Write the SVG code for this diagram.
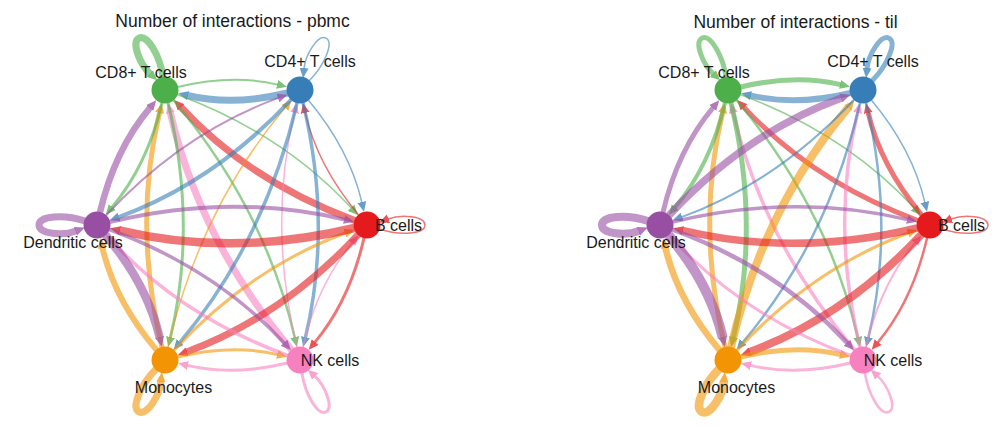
<svg xmlns="http://www.w3.org/2000/svg" xmlns:xlink="http://www.w3.org/1999/xlink" width="1000" height="427" viewBox="0 0 1000 427">
<style>
.e{fill:none;stroke-opacity:.6}
.c8{stroke:#4DAF4A;marker-end:url(#a8)}
.c4{stroke:#377EB8;marker-end:url(#a4)}
.cb{stroke:#E41A1C;marker-end:url(#ab)}
.cn{stroke:#F781BF;marker-end:url(#an)}
.cm{stroke:#F29403;marker-end:url(#am)}
.cd{stroke:#984EA3;marker-end:url(#ad)}
.lbl{font-family:"Liberation Sans",Arial,sans-serif;font-size:16px;fill:#1a1a1a;text-anchor:middle}
.ttl{font-family:"Liberation Sans",Arial,sans-serif;font-size:17.5px;fill:#1a1a1a;text-anchor:middle}
</style>
<defs>
<marker id="a8" viewBox="0 -5 10 10" refX="0.5" refY="0" markerWidth="10" markerHeight="10" markerUnits="userSpaceOnUse" orient="auto"><path d="M0,-4.5L10,0L0,4.5z" fill="#4DAF4A" fill-opacity=".75"/></marker>
<marker id="a4" viewBox="0 -5 10 10" refX="0.5" refY="0" markerWidth="10" markerHeight="10" markerUnits="userSpaceOnUse" orient="auto"><path d="M0,-4.5L10,0L0,4.5z" fill="#377EB8" fill-opacity=".75"/></marker>
<marker id="ab" viewBox="0 -5 10 10" refX="0.5" refY="0" markerWidth="10" markerHeight="10" markerUnits="userSpaceOnUse" orient="auto"><path d="M0,-4.5L10,0L0,4.5z" fill="#E41A1C" fill-opacity=".75"/></marker>
<marker id="an" viewBox="0 -5 10 10" refX="0.5" refY="0" markerWidth="10" markerHeight="10" markerUnits="userSpaceOnUse" orient="auto"><path d="M0,-4.5L10,0L0,4.5z" fill="#F781BF" fill-opacity=".75"/></marker>
<marker id="am" viewBox="0 -5 10 10" refX="0.5" refY="0" markerWidth="10" markerHeight="10" markerUnits="userSpaceOnUse" orient="auto"><path d="M0,-4.5L10,0L0,4.5z" fill="#F29403" fill-opacity=".75"/></marker>
<marker id="ad" viewBox="0 -5 10 10" refX="0.5" refY="0" markerWidth="10" markerHeight="10" markerUnits="userSpaceOnUse" orient="auto"><path d="M0,-4.5L10,0L0,4.5z" fill="#984EA3" fill-opacity=".75"/></marker>
<path id="loop" d="M12,4C34,11 58,9 58,0C58,-9 34,-11 21,-6"/>
<path id="e12" d="M177.6,87Q232.5,73.8 277.6,84.6"/>
<path id="e21" d="M287.4,93Q232.5,106.2 187.4,95.4"/>
<path id="e13" d="M177.2,94.5Q282.2,133.3 351.4,208.1"/>
<path id="e31" d="M354.8,220.5Q249.8,181.7 180.6,106.9"/>
<path id="e14" d="M173.4,100Q264.9,208.8 294.8,337.6"/>
<path id="e41" d="M291.6,350Q200.1,241.2 170.2,112.4"/>
<path id="e15" d="M168,102.6Q197.4,225 170.4,337.6"/>
<path id="e51" d="M162,347.4Q132.6,225 159.6,112.4"/>
<path id="e16" d="M162,102.7Q147.2,165.7 111.9,207.4"/>
<path id="e61" d="M100,212.3Q114.8,149.3 150.1,107.6"/>
<path id="e23" d="M308.3,100Q349.7,149.5 361.9,202.6"/>
<path id="e32" d="M358.7,215Q317.3,165.5 305.1,112.4"/>
<path id="e24" d="M303,102.6Q332.4,225 305.4,337.6"/>
<path id="e42" d="M297,347.4Q267.6,225 294.6,112.4"/>
<path id="e25" d="M297.1,102.7Q264.9,241.2 179.8,342.4"/>
<path id="e52" d="M167.9,347.3Q200.1,208.8 285.2,107.6"/>
<path id="e26" d="M291.2,99.5Q214.7,181.9 118.6,217.1"/>
<path id="e62" d="M105.9,215.5Q182.3,133.1 278.4,97.9"/>
<path id="e34" d="M364.1,237.7Q349.7,300.5 314.8,342.4"/>
<path id="e43" d="M302.9,347.3Q317.3,284.5 352.3,242.7"/>
<path id="e35" d="M358.2,234.6Q282.2,316.7 186.6,352"/>
<path id="e53" d="M173.8,350.5Q249.8,268.3 345.4,233"/>
<path id="e36" d="M354.4,228Q232,257.4 119.4,230.4"/>
<path id="e63" d="M109.6,222Q232,192.6 344.6,219.6"/>
<path id="e45" d="M287.4,363Q232.5,376.2 187.4,365.4"/>
<path id="e54" d="M177.6,357Q232.5,343.8 277.6,354.6"/>
<path id="e46" d="M287.8,355.5Q182.3,316.9 112.7,241.9"/>
<path id="e64" d="M109.2,229.5Q214.7,268.1 284.4,343.1"/>
<path id="e56" d="M156.6,350.1Q114.8,300.7 102.3,247.4"/>
<path id="e65" d="M105.4,234.9Q147.2,284.3 159.7,337.6"/>
</defs>
<rect width="1000" height="427" fill="#ffffff"/>

<g id="pbmc">
<text class="ttl" x="232.5" y="27">Number of interactions - pbmc</text>
<g id="pbmc-connectors">
<use href="#loop" class="e c8" stroke-width="7" transform="translate(165,90) rotate(-116.6)"/>
<use href="#loop" class="e c4" stroke-width="1.5" transform="translate(300,90) rotate(-63.4)"/>
<use href="#loop" class="e cb" stroke-width="1.5" transform="translate(367,225)"/>
<use href="#loop" class="e cn" stroke-width="3" transform="translate(300,360) rotate(63.4)"/>
<use href="#loop" class="e cm" stroke-width="7" transform="translate(165,360) rotate(116.6)"/>
<use href="#loop" class="e cd" stroke-width="7" transform="translate(97,225) rotate(180)"/>
<use href="#e12" class="e c8" stroke-width="2"/>
<use href="#e21" class="e c4" stroke-width="7"/>
<use href="#e13" class="e c8" stroke-width="1.5"/>
<use href="#e31" class="e cb" stroke-width="7"/>
<use href="#e14" class="e c8" stroke-width="2.5"/>
<use href="#e41" class="e cn" stroke-width="7"/>
<use href="#e15" class="e c8" stroke-width="3"/>
<use href="#e51" class="e cm" stroke-width="5"/>
<use href="#e16" class="e c8" stroke-width="3"/>
<use href="#e61" class="e cd" stroke-width="6.5"/>
<use href="#e23" class="e c4" stroke-width="1.5"/>
<use href="#e32" class="e cb" stroke-width="1.5"/>
<use href="#e24" class="e c4" stroke-width="3.5"/>
<use href="#e42" class="e cn" stroke-width="1.5"/>
<use href="#e25" class="e c4" stroke-width="3.5"/>
<use href="#e52" class="e cm" stroke-width="1.5"/>
<use href="#e26" class="e c4" stroke-width="4"/>
<use href="#e62" class="e cd" stroke-width="2"/>
<use href="#e34" class="e cb" stroke-width="3"/>
<use href="#e43" class="e cn" stroke-width="1.5"/>
<use href="#e35" class="e cb" stroke-width="7"/>
<use href="#e53" class="e cm" stroke-width="3"/>
<use href="#e36" class="e cb" stroke-width="8.5"/>
<use href="#e63" class="e cd" stroke-width="4"/>
<use href="#e45" class="e cn" stroke-width="3"/>
<use href="#e54" class="e cm" stroke-width="3"/>
<use href="#e46" class="e cn" stroke-width="3.5"/>
<use href="#e64" class="e cd" stroke-width="3.5"/>
<use href="#e56" class="e cm" stroke-width="6"/>
<use href="#e65" class="e cd" stroke-width="8.5"/>
</g>
<g id="pbmc-cd8"><circle cx="165" cy="90" r="13.5" fill="#4DAF4A"/><text class="lbl" x="141" y="78">CD8+ T cells</text></g>
<g id="pbmc-cd4"><circle cx="300" cy="90" r="13.5" fill="#377EB8"/><text class="lbl" x="310" y="67">CD4+ T cells</text></g>
<g id="pbmc-b"><circle cx="367" cy="225" r="13.5" fill="#E41A1C"/><text class="lbl" x="398.5" y="231">B cells</text></g>
<g id="pbmc-nk"><circle cx="300" cy="360" r="13.5" fill="#F781BF"/><text class="lbl" x="330" y="366">NK cells</text></g>
<g id="pbmc-mono"><circle cx="165" cy="360" r="13.5" fill="#F29403"/><text class="lbl" x="173.5" y="393">Monocytes</text></g>
<g id="pbmc-dc"><circle cx="97" cy="225" r="13.5" fill="#984EA3"/><text class="lbl" x="73" y="248">Dendritic cells</text></g>
</g>

<g id="til" transform="translate(563,0)">
<text class="ttl" x="232.5" y="28">Number of interactions - til</text>
<g id="til-connectors">
<use href="#loop" class="e c8" stroke-width="5" transform="translate(165,90) rotate(-116.6)"/>
<use href="#loop" class="e c4" stroke-width="5" transform="translate(300,90) rotate(-63.4)"/>
<use href="#loop" class="e cb" stroke-width="1.5" transform="translate(367,225)"/>
<use href="#loop" class="e cn" stroke-width="2.5" transform="translate(300,360) rotate(63.4)"/>
<use href="#loop" class="e cm" stroke-width="8.5" transform="translate(165,360) rotate(116.6)"/>
<use href="#loop" class="e cd" stroke-width="8" transform="translate(97,225) rotate(180)"/>
<use href="#e12" class="e c8" stroke-width="5"/>
<use href="#e21" class="e c4" stroke-width="6"/>
<use href="#e13" class="e c8" stroke-width="1.5"/>
<use href="#e31" class="e cb" stroke-width="5"/>
<use href="#e14" class="e c8" stroke-width="2.5"/>
<use href="#e41" class="e cn" stroke-width="3.5"/>
<use href="#e15" class="e c8" stroke-width="5"/>
<use href="#e51" class="e cm" stroke-width="5"/>
<use href="#e16" class="e c8" stroke-width="4"/>
<use href="#e61" class="e cd" stroke-width="5"/>
<use href="#e23" class="e c4" stroke-width="1.5"/>
<use href="#e32" class="e cb" stroke-width="5"/>
<use href="#e24" class="e c4" stroke-width="2.5"/>
<use href="#e42" class="e cn" stroke-width="3.5"/>
<use href="#e25" class="e c4" stroke-width="2.5"/>
<use href="#e52" class="e cm" stroke-width="8"/>
<use href="#e26" class="e c4" stroke-width="2"/>
<use href="#e62" class="e cd" stroke-width="7.5"/>
<use href="#e34" class="e cb" stroke-width="2.5"/>
<use href="#e43" class="e cn" stroke-width="2"/>
<use href="#e35" class="e cb" stroke-width="8"/>
<use href="#e53" class="e cm" stroke-width="3"/>
<use href="#e36" class="e cb" stroke-width="7.5"/>
<use href="#e63" class="e cd" stroke-width="3.5"/>
<use href="#e45" class="e cn" stroke-width="3"/>
<use href="#e54" class="e cm" stroke-width="5"/>
<use href="#e46" class="e cn" stroke-width="3"/>
<use href="#e64" class="e cd" stroke-width="4.5"/>
<use href="#e56" class="e cm" stroke-width="6.5"/>
<use href="#e65" class="e cd" stroke-width="10"/>
</g>
<g id="til-cd8"><circle cx="165" cy="90" r="13.5" fill="#4DAF4A"/><text class="lbl" x="141" y="78">CD8+ T cells</text></g>
<g id="til-cd4"><circle cx="300" cy="90" r="13.5" fill="#377EB8"/><text class="lbl" x="310" y="67">CD4+ T cells</text></g>
<g id="til-b"><circle cx="367" cy="225" r="13.5" fill="#E41A1C"/><text class="lbl" x="398.5" y="231">B cells</text></g>
<g id="til-nk"><circle cx="300" cy="360" r="13.5" fill="#F781BF"/><text class="lbl" x="330" y="366">NK cells</text></g>
<g id="til-mono"><circle cx="165" cy="360" r="13.5" fill="#F29403"/><text class="lbl" x="173.5" y="393">Monocytes</text></g>
<g id="til-dc"><circle cx="97" cy="225" r="13.5" fill="#984EA3"/><text class="lbl" x="73" y="248">Dendritic cells</text></g>
</g>
</svg>
